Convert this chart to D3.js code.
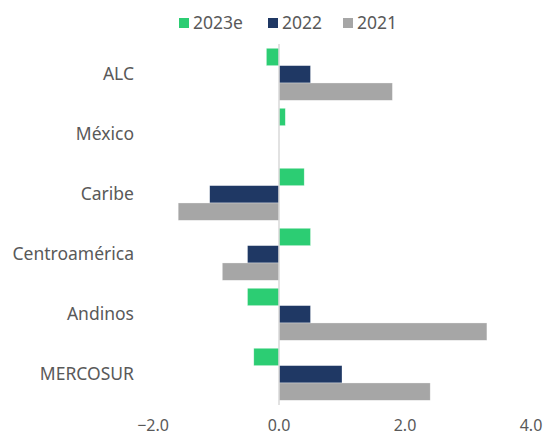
<!DOCTYPE html>
<html>
<head>
<meta charset="utf-8">
<script src="https://cdn.jsdelivr.net/npm/d3@7"></script>
<style>
  body { margin: 0; background: #fff; }
  text { font-family: "Noto Sans", "Open Sans", sans-serif; fill: #595959; }
</style>
</head>
<body>
<svg id="chart" width="547" height="435"></svg>
<script>
// regiones (orden de arriba hacia abajo)
var regiones = ["ALC", "México", "Caribe", "Centroamérica", "Andinos", "MERCOSUR"];

// serie y valores
var serie = ["2023e", "2022", "2021"];
var v2023e = [-0.2, 0.1, 0.4, 0.5, -0.5, -0.4];
var v2022  = [0.5, 0, -1.1, -0.5, 0.5, 1.0];
var v2021  = [1.8, 0, -1.6, -0.9, 3.3, 2.4];
var colori = ["#2ccd73", "#1f3864", "#a6a6a6"];

var xTicks = [-2, 0, 2, 4];

var svg = d3.select("#chart");

var x = d3.scaleLinear().domain([-2, 4]).range([153, 531]);

var y = d3.scaleBand()
    .domain(regiones)
    .range([44.3, 404.3])
    .paddingInner(0.133)
    .paddingOuter(0.0667);

var ySub = d3.scaleBand()
    .domain(serie)
    .range([0, y.bandwidth()]);

var valori = [v2023e, v2022, v2021];

//barre
serie.forEach(function(s, k){
  svg.selectAll(".bar" + k)
     .data(regiones)
     .enter().append("rect")
     .attr("class", "bar" + k)
     .attr("x", function(d, i){ return x(Math.min(0, valori[k][i])); })
     .attr("y", function(d){ return y(d) + ySub(s); })
     .attr("width", function(d, i){ return Math.abs(x(valori[k][i]) - x(0)); })
     .attr("height", ySub.bandwidth())
     .attr("fill", colori[k])
     .attr("stroke", "#fff")
     .attr("stroke-opacity", 0.5)
     .attr("stroke-width", 0.6);
});

//linea dello zero
svg.append("line")
   .attr("x1", x(0)).attr("x2", x(0))
   .attr("y1", 44).attr("y2", 405)
   .attr("stroke", "#d9d9d9")
   .attr("stroke-width", 1.5);

//etichette regioni
svg.selectAll(".reg")
   .data(regiones)
   .enter().append("text")
   .attr("class", "reg")
   .attr("x", 134)
   .attr("y", function(d){ return y(d) + y.bandwidth() / 2; })
   .attr("dy", "0.35em")
   .attr("text-anchor", "end")
   .style("font-size", "17.5px")
   .text(function(d){ return d; });

//etichette asse x
svg.selectAll(".tick")
   .data(xTicks)
   .enter().append("text")
   .attr("class", "tick")
   .attr("x", function(d){ return x(d); })
   .attr("y", 431)
   .attr("text-anchor", "middle")
   .style("font-size", "16px")
   .text(function(d){ return d3.format(".1f")(d); });

//legenda
var legX = [179, 268, 343];
var leg = svg.selectAll(".leg")
   .data(serie)
   .enter().append("g")
   .attr("class", "leg")
   .attr("transform", function(d, i){ return "translate(" + legX[i] + ",0)"; });

leg.append("rect")
   .attr("x", 0).attr("y", 18)
   .attr("width", 10).attr("height", 10)
   .attr("fill", function(d, i){ return colori[i]; });

leg.append("text")
   .attr("x", 14)
   .attr("y", 23)
   .attr("dy", "0.35em")
   .style("font-size", "17.5px")
   .text(function(d){ return d; });
</script>
</body>
</html>
